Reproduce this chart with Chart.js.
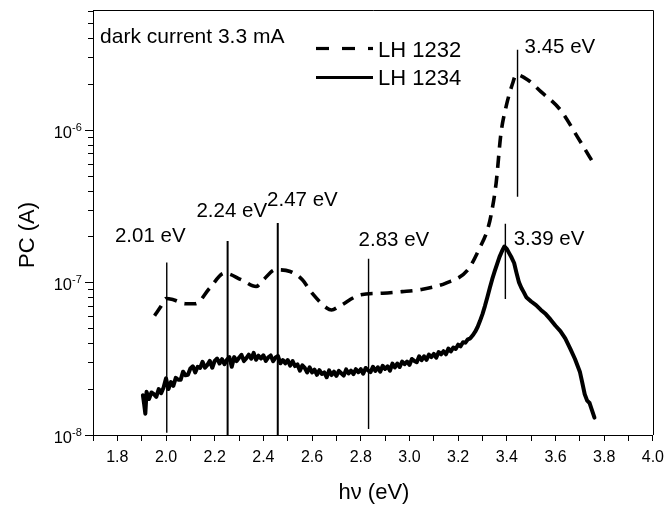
<!DOCTYPE html>
<html><head><meta charset="utf-8">
<script src="https://cdn.jsdelivr.net/npm/chart.js@4.4.1/dist/chart.umd.min.js"></script>
<style>html,body{margin:0;padding:0;background:#fff;}#wrap{width:671px;height:508px;}</style>
</head><body><div id="wrap"><canvas id="c" width="671" height="508"></canvas></div>
<script>
const FONT = '"Liberation Sans", Arial, Helvetica, sans-serif';

// ---- axes ----
const X_MIN = 1.7, X_MAX = 4.0;
const X_TICKS = [1.7,1.8,1.9,2.0,2.1,2.2,2.3,2.4,2.5,2.6,2.7,2.8,2.9,3.0,3.1,3.2,3.3,3.4,3.5,3.6,3.7,3.8,3.9,4.0];
const X_TICK_LABELS = ['','1.8','','2.0','','2.2','','2.4','','2.6','','2.8','','3.0','','3.2','','3.4','','3.6','','3.8','','4.0'];
const Y_MIN = 1e-8, Y_MAX = 6.1e-6;
const Y_TICKS = [1e-8,2e-8,3e-8,4e-8,5e-8,6e-8,7e-8,8e-8,9e-8,1e-7,2e-7,3e-7,4e-7,5e-7,6e-7,7e-7,8e-7,9e-7,1e-6,2e-6,3e-6,4e-6,5e-6,6e-6];
const Y_DECADES = [1e-8,1e-7,1e-6];
const Y_DECADE_EXP = ['-8','-7','-6'];
const X_TITLE = 'hν (eV)';
const Y_TITLE = 'PC (A)';

// ---- LH 1232 (dashed) ----
const LH1232_E  = [1.953,1.98,2.00,2.03,2.08,2.12,2.18,2.24,2.31,2.37,2.40,2.45,2.51,2.56,2.60,2.66,2.68,2.71,2.80,2.89,2.97,3.05,3.15,3.24,3.29,3.32,3.335,3.356,3.376,3.397,3.424,3.438,3.485,3.54,3.62,3.69,3.764];
const LH1232_PC = [6.05e-8,7.0e-8,7.85e-8,7.7e-8,7.25e-8,7.25e-8,9.2e-8,1.15e-7,1.04e-7,9.4e-8,1.04e-7,1.21e-7,1.18e-7,1.04e-7,8.5e-8,6.8e-8,6.6e-8,6.95e-8,8.3e-8,8.5e-8,8.7e-8,9.0e-8,9.9e-8,1.21e-7,1.7e-7,2.2e-7,2.75e-7,4.47e-7,9.5e-7,1.42e-6,2.02e-6,2.3e-6,2.13e-6,1.78e-6,1.35e-6,9.0e-7,5.75e-7];

// ---- LH 1234 (solid, noisy) ----
const LH1234_E = [1.905,1.91,1.915,1.92,1.93,1.94,1.95,1.96,1.97,1.98,1.99,
 2.00,2.01,2.02,2.03,2.04,2.05,2.06,2.07,2.08,2.09,2.10,2.11,2.12,2.13,2.14,2.15,2.16,2.17,2.18,2.19,
 2.20,2.21,2.22,2.23,2.24,2.25,2.26,2.27,2.28,2.29,2.30,2.31,2.32,2.33,2.34,2.35,2.36,2.37,2.38,2.39,
 2.40,2.41,2.42,2.43,2.44,2.45,2.46,2.47,2.48,2.49,2.50,2.51,2.52,2.53,2.54,2.55,2.56,2.57,2.58,2.59,
 2.60,2.61,2.62,2.63,2.64,2.65,2.66,2.67,2.68,2.69,2.70,2.71,2.72,2.73,2.74,2.75,2.76,2.77,2.78,2.79,
 2.80,2.81,2.82,2.83,2.84,2.85,2.86,2.87,2.88,2.89,2.90,2.91,2.92,2.93,2.94,2.95,2.96,2.97,2.98,2.99,
 3.00,3.01,3.02,3.03,3.04,3.05,3.06,3.07,3.08,3.09,3.10,3.11,3.12,3.13,3.14,3.15,3.16,3.17,3.18,3.19,
 3.20,3.21,3.22,3.23,3.24,3.25,3.26,3.27,3.28,3.29,3.30,3.31,3.32,3.33,3.34,3.35,3.36,3.37,3.38,3.39,
 3.40,3.41,3.42,3.43,3.44,3.45,3.46,3.47,3.48,3.50,3.52,3.54,3.56,3.58,3.60,3.62,3.64,3.66,3.68,3.70,
 3.71,3.72,3.73,3.74,3.75,3.76];
const LH1234_PC = [1.82e-8,1.6e-8,1.38e-8,1.92e-8,1.72e-8,1.9e-8,1.85e-8,1.78e-8,2.0e-8,1.88e-8,2.05e-8,
 2.35e-8,2.0e-8,2.22e-8,2.1e-8,2.37e-8,2.3e-8,2.3e-8,2.6e-8,2.46e-8,2.48e-8,2.73e-8,2.82e-8,2.57e-8,2.8e-8,2.75e-8,3.02e-8,2.76e-8,2.88e-8,3.06e-8,2.76e-8,
 3.06e-8,3.17e-8,2.94e-8,3.14e-8,2.91e-8,3.11e-8,3.24e-8,2.8e-8,3.24e-8,3.05e-8,3.21e-8,3.35e-8,3.05e-8,3.19e-8,3.36e-8,3.16e-8,3.45e-8,3.11e-8,3.31e-8,3.17e-8,
 3.33e-8,3.06e-8,3.23e-8,3.32e-8,3.05e-8,3.22e-8,3.29e-8,2.95e-8,3.1e-8,2.95e-8,3.1e-8,2.85e-8,3.05e-8,2.83e-8,2.9e-8,2.64e-8,2.86e-8,2.75e-8,2.57e-8,2.78e-8,
 2.57e-8,2.68e-8,2.48e-8,2.66e-8,2.51e-8,2.57e-8,2.39e-8,2.65e-8,2.47e-8,2.6e-8,2.44e-8,2.63e-8,2.54e-8,2.45e-8,2.69e-8,2.53e-8,2.64e-8,2.51e-8,2.7e-8,2.58e-8,
 2.7e-8,2.52e-8,2.75e-8,2.65e-8,2.58e-8,2.8e-8,2.63e-8,2.78e-8,2.6e-8,2.84e-8,2.71e-8,2.82e-8,2.64e-8,2.94e-8,2.77e-8,2.94e-8,2.79e-8,3.03e-8,2.91e-8,3.03e-8,
 2.88e-8,3.15e-8,3.06e-8,3.0e-8,3.28e-8,3.09e-8,3.28e-8,3.11e-8,3.37e-8,3.24e-8,3.4e-8,3.21e-8,3.5e-8,3.38e-8,3.54e-8,3.38e-8,3.68e-8,3.53e-8,3.74e-8,3.66e-8,
 3.91e-8,3.81e-8,4.06e-8,4.03e-8,4.24e-8,4.3e-8,4.5e-8,4.75e-8,5.1e-8,5.6e-8,6.2e-8,7.0e-8,8.0e-8,9.2e-8,1.05e-7,1.18e-7,1.32e-7,1.47e-7,1.6e-7,1.72e-7,
 1.66e-7,1.55e-7,1.45e-7,1.34e-7,1.15e-7,1.0e-7,9.2e-8,8.6e-8,8.0e-8,7.5e-8,7.1e-8,6.6e-8,6.2e-8,5.7e-8,5.2e-8,4.8e-8,4.3e-8,3.7e-8,3.15e-8,2.6e-8,
 2.2e-8,1.85e-8,1.68e-8,1.62e-8,1.45e-8,1.3e-8];

// ---- marked transitions (vertical lines) ----
const PEAK_E      = [2.003, 2.253, 2.459, 2.832, 3.394, 3.444];
const PEAK_TOP    = [1.35e-7, 1.87e-7, 2.45e-7, 1.43e-7, 2.42e-7, 3.35e-6];
const PEAK_BOTTOM = [1.035e-8, 1e-8, 1e-8, 1.095e-8, 7.8e-8, 3.64e-7];
const PEAK_LABELS = ['2.01 eV', '2.24 eV', '2.47 eV', '2.83 eV', '3.39 eV', '3.45 eV'];

const NOTE = 'dark current 3.3 mA';
const SERIES_NAMES = ['LH 1232', 'LH 1234'];

// label anchors (left, baseline) in data coordinates
const LABEL_ANCHORS = [
  {x: 1.790, y: 1.84e-7}, {x: 2.125, y: 2.69e-7}, {x: 2.415, y: 3.17e-7},
  {x: 2.791, y: 1.74e-7}, {x: 3.428, y: 1.76e-7}, {x: 3.473, y: 3.20e-6}
];
const NOTE_ANCHOR = {x: 1.729, y: 3.72e-6};

const toPts = (xs, ys) => xs.map((x, i) => ({x, y: ys[i]}));

const datasets = [];
PEAK_E.forEach((e, i) => {
  datasets.push({
    label: PEAK_LABELS[i],
    data: [{x: e, y: PEAK_TOP[i]}, {x: e, y: PEAK_BOTTOM[i]}],
    borderColor: '#000', borderWidth: (i === 1 || i === 2) ? 2 : 1.4,
    pointRadius: 0, fill: false, tension: 0, order: 0
  });
});
datasets.push({
  label: SERIES_NAMES[0], data: toPts(LH1232_E, LH1232_PC),
  borderColor: '#000', borderWidth: 3.6, borderDash: [12, 8], borderCapStyle: 'butt',
  pointRadius: 0, fill: false, cubicInterpolationMode: 'monotone', order: 1
});
datasets.push({
  label: SERIES_NAMES[1], data: toPts(LH1234_E, LH1234_PC),
  borderColor: '#000', borderWidth: 4, borderJoinStyle: 'round', borderCapStyle: 'round',
  pointRadius: 0, fill: false, tension: 0, order: 1
});

const decor = {
  id: 'decor',
  beforeDatasetsDraw(chart) {
    const {ctx, chartArea: a} = chart;
    ctx.save();
    ctx.strokeStyle = '#000'; ctx.lineWidth = 1;
    ctx.beginPath();
    ctx.moveTo(a.left, Math.round(a.top) + 0.5);
    ctx.lineTo(Math.round(a.right) + 0.5, Math.round(a.top) + 0.5);
    ctx.lineTo(Math.round(a.right) + 0.5, a.bottom);
    ctx.stroke();
    ctx.restore();
  },
  afterDraw(chart) {
    const {ctx, chartArea: a, scales} = chart;
    const xs = scales.x, ys = scales.y;
    ctx.save();
    ctx.fillStyle = '#000'; ctx.strokeStyle = '#000'; ctx.lineWidth = 1;
    // y ticks
    Y_TICKS.filter(v => v <= Y_MAX).forEach(v => {
      const y = Math.round(ys.getPixelForValue(v)) + 0.5;
      const major = Y_DECADES.includes(v);
      ctx.beginPath();
      ctx.moveTo(a.left - (major ? 8 : 5), y);
      ctx.lineTo(a.left, y);
      ctx.stroke();
    });
    // y decade labels
    Y_DECADES.forEach((v, i) => {
      const y = ys.getPixelForValue(v);
      ctx.font = '16.5px ' + FONT;
      ctx.textAlign = 'right'; ctx.textBaseline = 'alphabetic';
      ctx.fillText('10', a.left - 21, y + 8);
      ctx.font = '11px ' + FONT;
      ctx.textAlign = 'left';
      ctx.fillText(Y_DECADE_EXP[i], a.left - 21, y + 1);
    });
    // axis titles
    ctx.font = '22px ' + FONT;
    ctx.textAlign = 'center'; ctx.textBaseline = 'alphabetic';
    ctx.fillText(X_TITLE, (a.left + a.right) / 2 + 1, 499);
    ctx.save();
    ctx.translate(34, 235);
    ctx.rotate(-Math.PI / 2);
    ctx.fillText(Y_TITLE, 0, 0);
    ctx.restore();
    // transition labels
    ctx.font = '20.5px ' + FONT;
    ctx.textAlign = 'left';
    LABEL_ANCHORS.forEach((p, i) => {
      ctx.fillText(PEAK_LABELS[i], xs.getPixelForValue(p.x), ys.getPixelForValue(p.y));
    });
    ctx.font = '21px ' + FONT;
    ctx.fillText(NOTE, xs.getPixelForValue(NOTE_ANCHOR.x), ys.getPixelForValue(NOTE_ANCHOR.y));
    // legend
    const lx0 = a.left + 223, lx1 = a.left + 280, tx = a.left + 285;
    const ly = [a.top + 38.5, a.top + 67.5];
    ctx.lineWidth = 3.2;
    ctx.setLineDash([13, 13]);
    ctx.beginPath(); ctx.moveTo(lx0, ly[0]); ctx.lineTo(lx1, ly[0]); ctx.stroke();
    ctx.setLineDash([]);
    ctx.beginPath(); ctx.moveTo(lx0, ly[1]); ctx.lineTo(lx1, ly[1]); ctx.stroke();
    ctx.font = '22px ' + FONT;
    ctx.fillText(SERIES_NAMES[0], tx, a.top + 47);
    ctx.fillText(SERIES_NAMES[1], tx, a.top + 75);
    ctx.restore();
  }
};

new Chart(document.getElementById('c'), {
  type: 'line',
  data: {datasets},
  options: {
    responsive: false, animation: false, devicePixelRatio: 1,
    layout: {padding: {top: 10, right: 15, left: 0, bottom: 0}},
    plugins: {legend: {display: false}, tooltip: {enabled: false}},
    scales: {
      x: {
        type: 'linear', min: X_MIN, max: X_MAX,
        afterBuildTicks: s => { s.ticks = X_TICKS.map(v => ({value: v})); },
        afterFit: s => { s.height = 73; },
        grid: {drawOnChartArea: false, drawTicks: true, tickLength: 6, tickColor: '#000', tickWidth: 1},
        border: {display: true, color: '#000', width: 1},
        ticks: {
          autoSkip: false, maxRotation: 0, padding: 7, color: '#000',
          font: {family: FONT, size: 16},
          callback: (v, i) => X_TICK_LABELS[i]
        }
      },
      y: {
        type: 'logarithmic', min: Y_MIN, max: Y_MAX,
        afterBuildTicks: s => { s.ticks = Y_TICKS.filter(v => v <= Y_MAX).map(v => ({value: v})); },
        afterFit: s => { s.width = 93; },
        grid: {drawOnChartArea: false, drawTicks: false},
        border: {display: true, color: '#000', width: 1},
        ticks: {display: false}
      }
    }
  },
  plugins: [decor]
});
</script>
</body></html>
